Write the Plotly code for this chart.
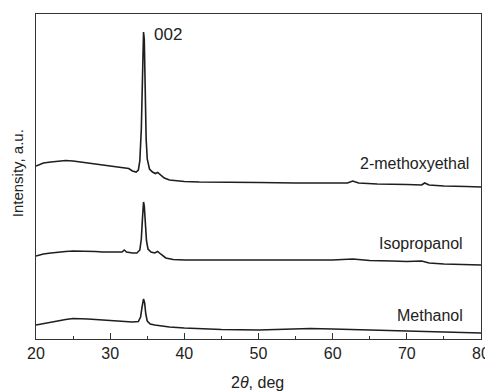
import plotly.graph_objects as go

# 2-theta (deg) and intensity (a.u.)
tt_meth_ox = [20, 21, 22, 23, 24, 25, 26, 27, 28, 29, 30, 31, 32, 32.5, 33, 33.5, 33.8, 34.0, 34.2, 34.35,
              34.5, 34.6, 34.7, 34.85, 35.0, 35.3, 35.7, 36.1, 36.4, 36.8, 37.3, 38, 39, 40, 42, 45, 48,
              50, 55, 60, 62, 62.7, 63.5, 66, 68, 70, 72, 72.4, 73, 75, 78, 80]
i_meth_ox = [173, 176, 177, 178, 178.5, 178, 177, 176, 175, 174, 173, 172, 171, 170.5, 168, 167, 169, 178, 210, 265,
             307, 300, 250, 200, 180, 170, 167, 165.5, 166.5, 164, 161, 159, 158, 157.5, 157, 157, 157,
             156.5, 156, 156, 156, 158, 156, 155, 155, 154.5, 154, 156, 154, 153, 152.5, 152]

tt_iso = [20, 21, 22, 23, 24, 25, 26, 27, 28, 29, 30, 31, 31.6, 31.9, 32.2, 33, 33.6, 34.0, 34.2, 34.35,
          34.5, 34.6, 34.75, 34.9, 35.1, 35.5, 36.0, 36.4, 36.8, 37.5, 38.5, 40, 45, 50, 55, 60, 62.7,
          65, 68, 70, 72, 73, 75, 78, 80]
i_iso = [83, 85, 86, 87, 87.5, 88, 88, 88, 87.5, 87, 87, 87, 87, 89, 87, 86, 86, 89, 100, 120,
         137, 133, 115, 98, 90, 87, 86, 87.5, 85, 81, 79.5, 79, 79, 79, 78.5, 79, 80,
         78.5, 78, 77.5, 78, 76, 75, 74.5, 74]

tt_meoh = [20, 21, 22, 23, 24, 25, 26, 27, 28, 29, 30, 31, 32, 33, 33.8, 34.1, 34.3, 34.5, 34.65, 34.8,
           35.0, 35.4, 36, 37, 38, 40, 45, 50, 55, 57, 60, 65, 70, 75, 80]
i_meoh = [14, 15.5, 17, 18.5, 19.5, 20.5, 20.5, 20, 19.5, 19, 18.5, 18, 17.5, 17, 17.5, 22, 32, 40, 36, 25,
          18, 15, 14, 13, 12, 11, 9.5, 9, 10, 10.5, 10, 9, 8, 7, 6]

x_ticks = [20, 30, 40, 50, 60, 70, 80]

line_col = "#1e1e1e"
font_fam = "Liberation Sans, Arial, sans-serif"

fig = go.Figure()
for xs, ys in [(tt_meth_ox, i_meth_ox), (tt_iso, i_iso), (tt_meoh, i_meoh)]:
    fig.add_trace(go.Scatter(x=xs, y=ys, mode="lines",
                             line=dict(color=line_col, width=1.6), showlegend=False))

ann_font = dict(family=font_fam, size=16, color="#222")
fig.add_annotation(x=35.6, y=305, text="002", showarrow=False, xanchor="left", yanchor="middle",
                   font=dict(family=font_fam, size=17, color="#222"))
fig.add_annotation(x=78.6, y=176, text="2-methoxyethal", showarrow=False, xanchor="right", yanchor="middle", font=ann_font)
fig.add_annotation(x=77.8, y=96, text="Isopropanol", showarrow=False, xanchor="right", yanchor="middle", font=ann_font)
fig.add_annotation(x=77.8, y=24, text="Methanol", showarrow=False, xanchor="right", yanchor="middle", font=ann_font)

# axis titles placed as paper annotations for exact position
fig.add_annotation(xref="paper", yref="paper", x=0.498, y=0, yshift=-43, text="2<i>θ</i>, deg",
                   showarrow=False, xanchor="center", yanchor="middle", font=ann_font)
fig.add_annotation(xref="paper", yref="paper", x=0, y=0.51, xshift=-19, text="Intensity, a.u.",
                   textangle=-90, showarrow=False, xanchor="center", yanchor="middle",
                   font=dict(family=font_fam, size=15, color="#222"))

# page body has an 8px margin: figure is shifted so the plot lands where the reference has it
fig.update_layout(
    width=485, height=384,
    margin=dict(l=28, r=12, t=6, b=53, autoexpand=False),
    paper_bgcolor="white", plot_bgcolor="white",
    font=dict(family=font_fam, size=16, color="#222"),
    xaxis=dict(range=[20, 80], tickvals=x_ticks, ticks="inside", ticklen=6, tickwidth=1,
               tickcolor="#333", showline=True, linecolor="#333", linewidth=1.2, mirror=True,
               showgrid=False, zeroline=False, automargin=False,
               minor=dict(dtick=5, ticks="inside", ticklen=3, tickcolor="#333", showgrid=False),
               tickfont=dict(size=16)),
    yaxis=dict(range=[0, 325], showticklabels=False, ticks="", showline=True, linecolor="#333",
               linewidth=1.2, mirror=True, showgrid=False, zeroline=False, automargin=False),
)

fig.write_html("out.html")
